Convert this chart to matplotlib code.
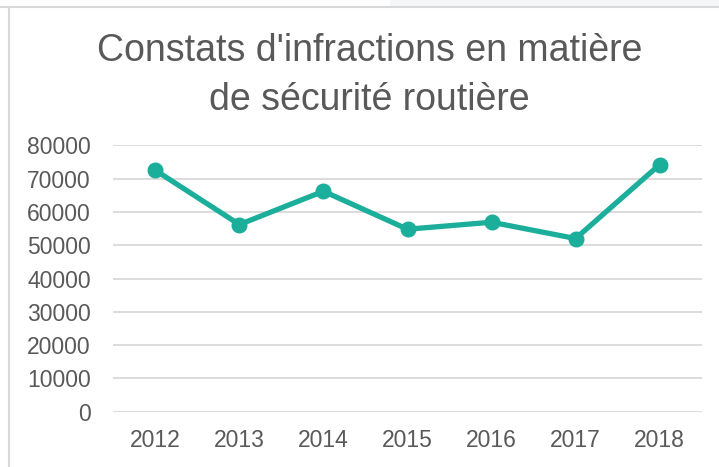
import matplotlib
matplotlib.use("Agg")
import matplotlib.pyplot as plt
from matplotlib.patches import Rectangle
from matplotlib.lines import Line2D

years = ["2012", "2013", "2014", "2015", "2016", "2017", "2018"]
values = [72500, 56200, 66200, 54800, 56900, 52000, 74200]
yticks = [0, 10000, 20000, 30000, 40000, 50000, 60000, 70000, 80000]
title = "Constats d'infractions en matière\nde sécurité routière"

plt.rcParams['font.family'] = ['Liberation Sans', 'DejaVu Sans']
W, H = 719, 467
fig = plt.figure(figsize=(W / 100, H / 100), dpi=100)
fig.patch.set_facecolor('white')

# screenshot frame details
fig.add_artist(Rectangle((390 / W, 1 - 6 / H), 1, 6 / H, transform=fig.transFigure,
                         facecolor='#f5f6f8', edgecolor='none', zorder=0))
fig.add_artist(Line2D([0, 1], [1 - 6.5 / H, 1 - 6.5 / H], transform=fig.transFigure,
                      color='#d9d9d9', lw=1.5))
fig.add_artist(Line2D([8.5 / W, 8.5 / W], [0, 1 - 6.5 / H], transform=fig.transFigure,
                      color='#d9d9d9', lw=1.5))

ax = fig.add_axes([113.3 / W, 1 - 411.7 / H, (701.7 - 113.3) / W, (411.7 - 145.3) / H])
x = list(range(len(years)))
ax.plot(x, values, color='#1bae9b', lw=3.8, marker='o', markersize=10.5,
        solid_capstyle='round', zorder=3, clip_on=False)
ax.set_xlim(-0.5, len(years) - 0.5)
ax.set_ylim(0, 80000)
ax.set_yticks(yticks)
ax.set_yticklabels([str(v) for v in yticks])
ax.set_xticks(x)
ax.set_xticklabels(years)
ax.grid(axis='y', color='#d9d9d9', lw=1.3)
ax.set_axisbelow(True)
for s in ax.spines.values():
    s.set_visible(False)
ax.tick_params(axis='both', length=0, labelsize=16.5, colors='#595959')
ax.tick_params(axis='y', pad=16.3)
ax.tick_params(axis='x', pad=12.5)

fig.text(369.5 / W, 1 - 75.5 / H, title, ha='center', va='center', fontsize=27,
         color='#595959', linespacing=1.48)

fig.savefig('out.png', dpi=100)
